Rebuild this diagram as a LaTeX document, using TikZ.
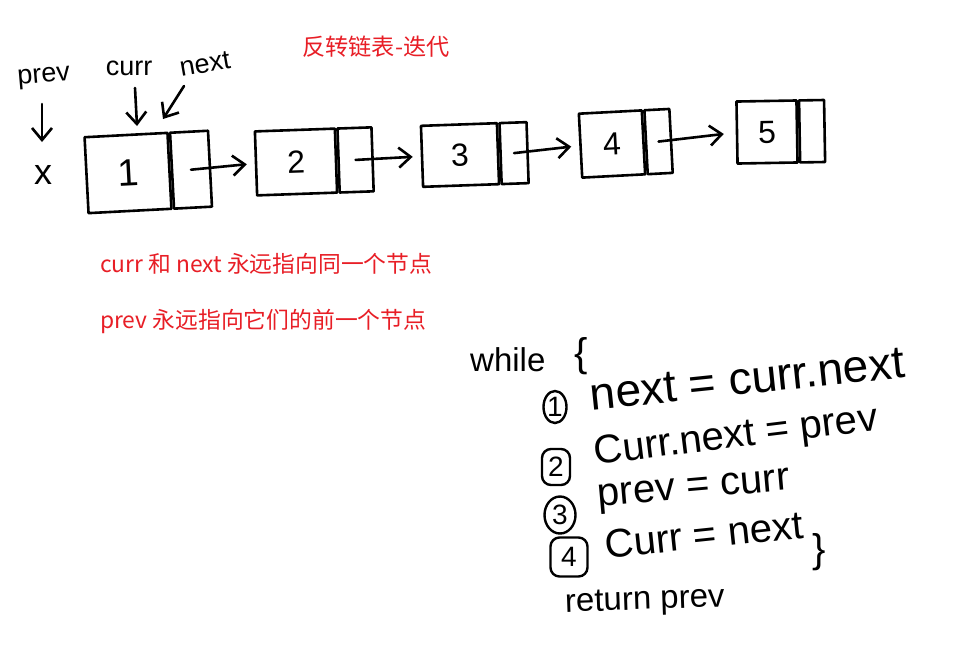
\documentclass[tikz,border=0pt]{standalone}
\usepackage{fontspec}
\setmainfont{Liberation Sans}
\newfontfamily\cjk{Noto Sans CJK SC}
\usetikzlibrary{arrows.meta,shapes.geometric}
\definecolor{notered}{RGB}{232,30,38}
\newcommand{\fs}[1]{\fontsize{#1}{#1}\selectfont}
\tikzset{
  hand/.style={line width=2.6pt, line join=round, line cap=round},
  cell/.style={draw, hand, inner sep=0pt, font=\fs{32}},
  arr/.style={hand, -{Straight Barb[length=12pt,width=20pt,line width=2.6pt]}},
  lbl/.style={font=\fs{27}, inner sep=0pt},
  code/.style={font=\fs{40}, inner sep=0pt, anchor=west},
  redtxt/.style={font=\cjk\fs{22.8}, text=notered, inner sep=0pt},
  numc/.style={draw, line width=2.4pt, ellipse, inner sep=0pt, font=\fs{28}},
  numr/.style={draw, line width=2.4pt, rounded corners=9pt, inner sep=0pt, font=\fs{28}}
}
\begin{document}
\begin{tikzpicture}[x=1pt,y=-1pt]
\fill[white] (0,0) rectangle (966,657);
\useasboundingbox (0,0) rectangle (966,657);

% title
\node[redtxt, font=\cjk\fs{23.2}] (title) at (376,47) {反转链表-迭代};

% linked list
\node[cell, font=\fs{38}, minimum width=83pt, minimum height=76pt, rotate=3] (v1) at (128,173) {1};
\node[cell, minimum width=38pt, minimum height=76pt, rotate=3, anchor=west] (p1) at (v1.east) {};
\node[cell, minimum width=80pt, minimum height=64pt, rotate=2] (v2) at (296,162) {2};
\node[cell, minimum width=34pt, minimum height=64pt, rotate=2, anchor=west] (p2) at (v2.east) {};
\node[cell, minimum width=76pt, minimum height=61pt, rotate=2] (v3) at (460,155) {3};
\node[cell, minimum width=27pt, minimum height=61pt, rotate=2, anchor=west] (p3) at (v3.east) {};
\node[cell, minimum width=63pt, minimum height=64pt, rotate=3] (v4) at (612,144) {4};
\node[cell, minimum width=25pt, minimum height=64pt, rotate=3, anchor=west] (p4) at (v4.east) {};
\node[cell, minimum width=60pt, minimum height=62pt, rotate=1] (v5) at (767,132) {5};
\node[cell, minimum width=25pt, minimum height=62pt, rotate=1, anchor=west] (p5) at (v5.east) {};

\draw[arr, shorten >=8pt] (p1.center) -- (v2.west);
\draw[arr, shorten >=8pt] (p2.center) -- (v3.west);
\draw[arr, shorten >=8pt] (p3.center) -- (v4.west);
\draw[arr, shorten >=12pt] (p4.center) -- (v5.west);

% pointer labels
\node[lbl, rotate=5] (prev) at (44,78) {prev};
\node[lbl] (curr) at (129,68) {curr};
\node[lbl, rotate=10] (next) at (205,64) {next};
\node[lbl, font=\fs{36}] (nil) at (43,175) {x};
\coordinate (prevtip) at (42,142);
\coordinate (currtip) at (137,126);
\coordinate (nexttip) at (163,119);
\draw[arr] (42,104) -- (prevtip);
\draw[arr] (135,88) -- (currtip);
\draw[arr] (184,86) -- (nexttip);

% red notes
\node[redtxt, anchor=west] (note1) at (100,264) {curr 和 next 永远指向同一个节点};
\node[redtxt, anchor=west] (note2) at (100,321) {prev 永远指向它们的前一个节点};

% code
\node[code, font=\fs{33}] (while) at (470,360) {while};
\node[code, font=\fs{40}] (lb) at (574,356) {\{};
\node[numc, minimum width=23pt, minimum height=32pt] (c1) at (555,407) {1};
\node[code, font=\fs{46}, rotate=6] (l1) at (590,396) {next = curr.next};
\node[numr, minimum width=28pt, minimum height=36pt] (c2) at (556,467) {2};
\node[code, rotate=7] (l2) at (594,455) {Curr.next = prev};
\node[numc, minimum width=31pt, minimum height=37pt] (c3) at (560,515) {3};
\node[code, rotate=5] (l3) at (598,500) {prev = curr};
\node[numr, minimum width=37pt, minimum height=39pt] (c4) at (569,557) {4};
\node[code, rotate=6] (l4) at (605,545) {Curr = next};
\node[code, font=\fs{40}] (rb) at (812,552) {\}};
\node[code, font=\fs{33}, rotate=2] (ret) at (565,605) {return prev};
\end{tikzpicture}
\end{document}
